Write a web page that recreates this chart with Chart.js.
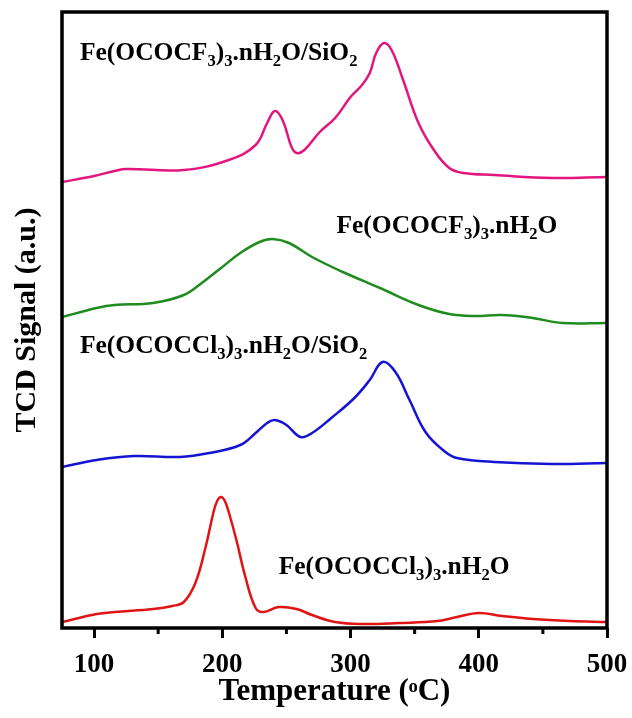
<!DOCTYPE html>
<html>
<head>
<meta charset="utf-8">
<script src="https://cdn.jsdelivr.net/npm/chart.js@4/dist/chart.umd.min.js"></script>
<style>
  body { margin: 0; background: #fff; }
</style>
</head>
<body>
<canvas id="tcdChart" width="632" height="718"></canvas>
<script>
"use strict";

/* TPD/TCD curves (signal in arbitrary units) */
const tempPink = [75, 100, 116, 125, 170, 205, 226, 235, 241, 247, 254, 258, 264, 276, 288, 300, 309, 315, 320, 326, 332, 341, 353, 365, 377, 388, 412, 457, 500];
const signalPink = [446, 452, 457, 459, 458, 468, 483, 505, 517, 508, 481, 475, 478, 496, 510, 531, 543, 555, 575, 585, 578, 548, 505, 478, 460, 455, 453, 450, 451];

const tempGreen = [75, 102, 116, 146, 170, 184, 199, 214, 229, 239, 252, 270, 294, 323, 353, 377, 397, 418, 442, 465, 500];
const signalGreen = [311, 320, 323, 325, 333, 345, 360, 375, 386, 389, 385, 371, 356, 340, 323, 314, 312, 313, 310, 305, 305];

const tempBlue = [75, 102, 131, 167, 190, 214, 226, 235, 241, 250, 261, 270, 285, 303, 315, 325, 335, 346, 359, 374, 383, 412, 457, 500];
const signalBlue = [161, 168, 172, 171, 175, 183, 195, 205, 208, 203, 191, 195, 210, 230, 248, 266, 256, 228, 195, 176, 170, 166, 164, 165];

const tempRed = [75, 102, 116, 146, 161, 170, 179, 187, 193, 196, 199, 202, 205, 211, 218, 226, 232, 244, 258, 270, 288, 309, 338, 368, 383, 400, 418, 442, 471, 500];
const signalRed = [6, 14, 16, 19, 22, 26, 45, 81, 115, 127, 131, 127, 116, 88, 51, 20, 16, 21, 19, 13, 6, 4, 5, 7, 11, 15, 12, 9, 7, 6];

// Etiketter inne i diagrammet (siffror blir nedsänkta)
const labelNames = ["Fe(OCOCF3)3.nH2O/SiO2", "Fe(OCOCF3)3.nH2O", "Fe(OCOCCl3)3.nH2O/SiO2", "Fe(OCOCCl3)3.nH2O"];
const labelTemps = [89, 289, 89, 244];
const labelSignals = [568, 395, 275, 54];

const xTicks = [100, 200, 300, 400, 500];
const xMinorTicks = [150, 250, 350, 450];

const serif = "'Liberation Serif', 'Times New Roman', serif";

function toPoints(xs, ys) {
  return xs.map((x, i) => ({ x: x, y: ys[i] }));
}

function line(xs, ys, color) {
  return {
    data: toPoints(xs, ys),
    borderColor: color,
    borderWidth: 2.5,
    pointRadius: 0,
    fill: false,
    tension: 0.4,
  };
}

/* Ram runt ritytan + små mellanstreck + etiketter */
const framePlugin = {
  id: "frame",
  afterDatasetsDraw(chart) {
    const { ctx, chartArea, scales } = chart;
    ctx.save();
    ctx.fillStyle = "#000";
    ctx.textBaseline = "alphabetic";
    ctx.textAlign = "left";
    const size = 25.5;
    labelNames.forEach((name, i) => {
      let x = scales.x.getPixelForValue(labelTemps[i]);
      const y = scales.y.getPixelForValue(labelSignals[i]);
      name.split(/(\d+)/).forEach((part, j) => {
        if (!part) return;
        const sub = j % 2 === 1;
        ctx.font = "bold " + (sub ? size * 0.65 : size) + "px " + serif;
        ctx.fillText(part, x, sub ? y + size * 0.22 : y);
        x += ctx.measureText(part).width;
      });
    });

    ctx.strokeStyle = "#000";
    ctx.lineWidth = 3.5;
    ctx.strokeRect(chartArea.left, chartArea.top, chartArea.right - chartArea.left, chartArea.bottom - chartArea.top);

    ctx.lineWidth = 3;
    xMinorTicks.forEach((v) => {
      const x = scales.x.getPixelForValue(v);
      ctx.beginPath();
      ctx.moveTo(x, chartArea.bottom);
      ctx.lineTo(x, chartArea.bottom + 6);
      ctx.stroke();
    });
    ctx.restore();
  },
};

const config = {
  type: "line",
  data: {
    datasets: [
      line(tempPink, signalPink, "#E3157E"),
      line(tempGreen, signalGreen, "#1E8C1E"),
      line(tempBlue, signalBlue, "#1414D2"),
      line(tempRed, signalRed, "#E01414"),
    ],
  },
  options: {
    responsive: false,
    animation: false,
    layout: { padding: { top: 12, right: 25, left: 0, bottom: 0 } },
    plugins: { legend: { display: false }, tooltip: { enabled: false } },
    scales: {
      x: {
        type: "linear",
        min: 75,
        max: 500,
        afterFit: (s) => {
          s.height = 90;
          s.paddingLeft = 0;
          s.paddingRight = 0;
        },
        afterBuildTicks: (s) => { s.ticks = xTicks.map((v) => ({ value: v })); },
        grid: { drawOnChartArea: false, tickLength: 10, lineWidth: 3, tickWidth: 3, tickColor: "#000" },
        border: { display: false },
        ticks: { color: "#000", padding: 11, maxRotation: 0, autoSkip: false, font: { family: serif, weight: "bold", size: 27 } },
        title: {
          display: true,
          text: "Temperature (ᵒC)",
          color: "#000",
          padding: { top: 0, bottom: 7 },
          font: { family: serif, weight: "bold", size: 31 },
        },
      },
      y: {
        min: 0,
        max: 616,
        afterFit: (s) => { s.width = 62; },
        ticks: { display: false },
        grid: { display: false },
        border: { display: false },
        title: {
          display: true,
          text: "TCD Signal (a.u.)",
          color: "#000",
          padding: { top: 9, bottom: 0 },
          font: { family: serif, weight: "bold", size: 30 },
        },
      },
    },
  },
  plugins: [framePlugin],
};

new Chart(document.getElementById("tcdChart"), config);
</script>
</body>
</html>
